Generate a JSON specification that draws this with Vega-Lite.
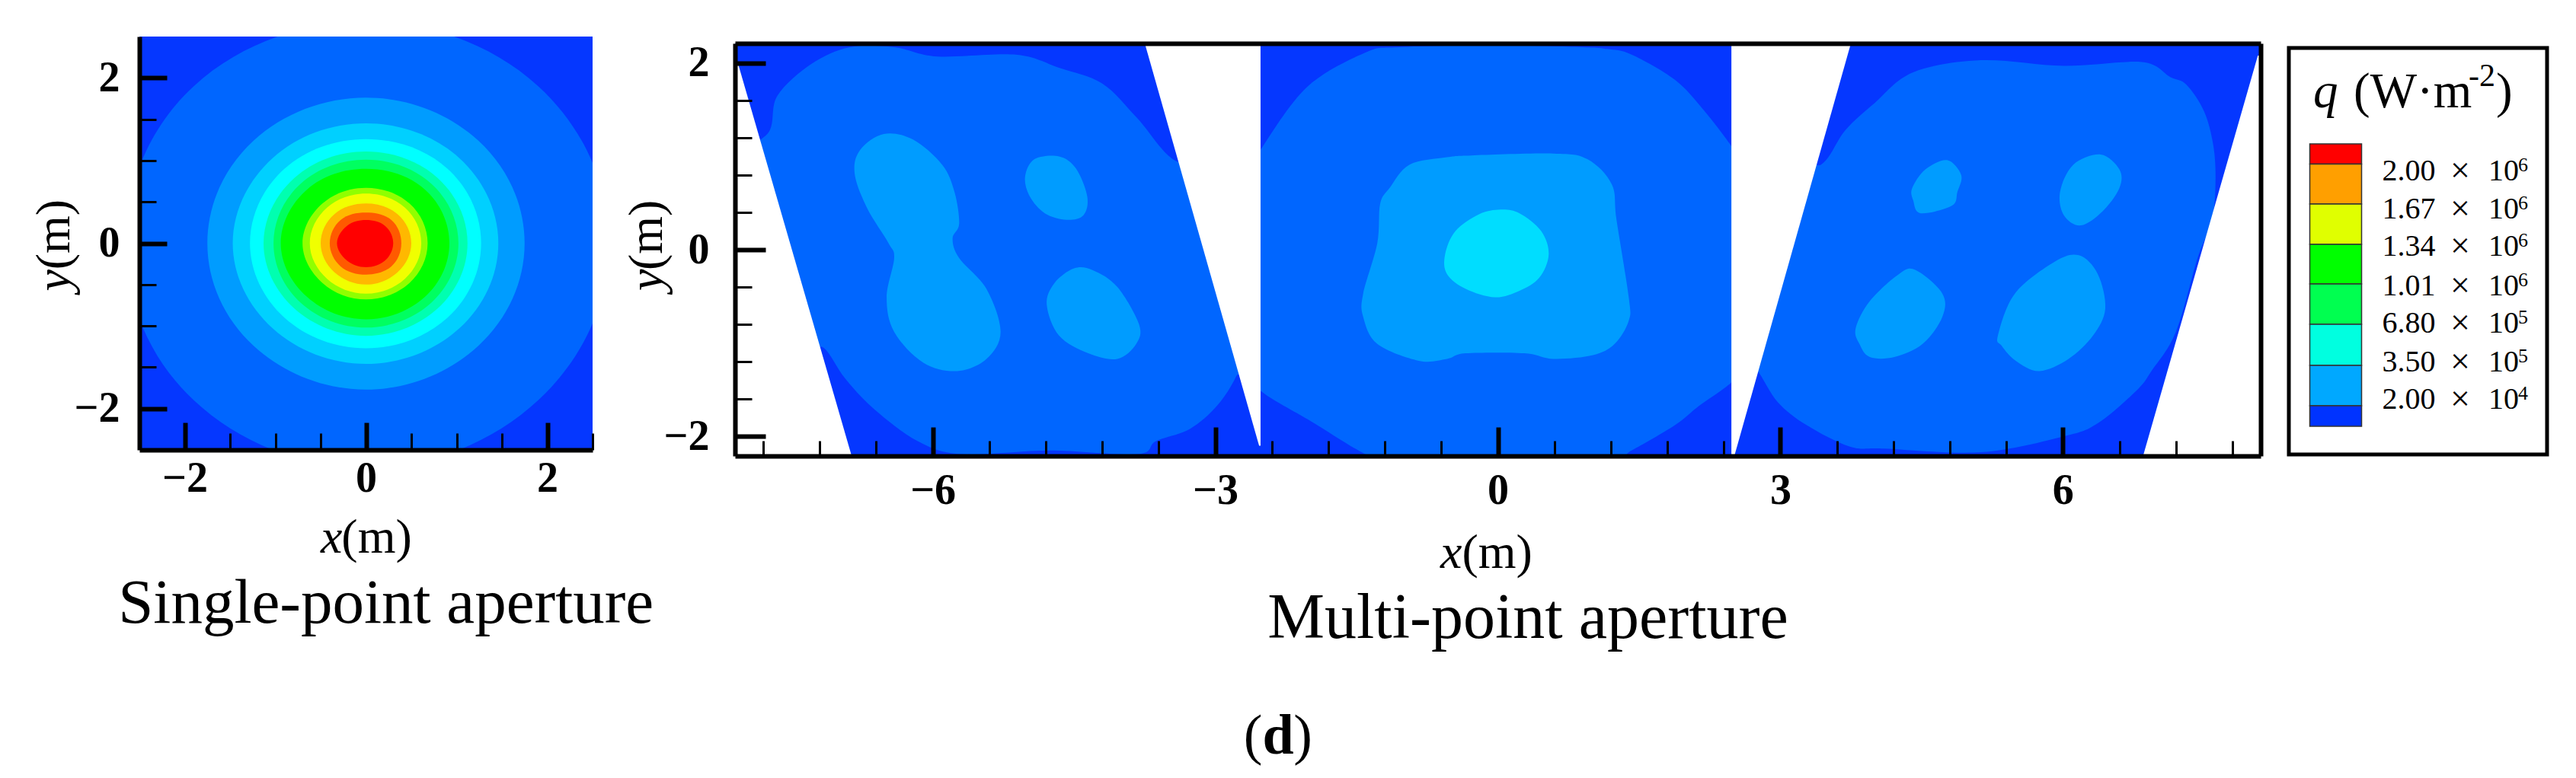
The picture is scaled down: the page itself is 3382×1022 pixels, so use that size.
{"$schema":"https://vega.github.io/schema/vega-lite/v6.json","background":"white","padding":{"left":40,"top":48,"right":0,"bottom":0},"config":{"view":{"stroke":null},"axis":{"grid":false,"title":null,"labelFont":"Liberation Serif","labelColor":"black","domainColor":"black","tickColor":"black","labelOverlap":false,"labelFlush":false}},
"spacing":-41,
"datasets":{
"p1":[
{"r":"a","l":"L2","x":2.68,"y":0},{"r":"a","l":"L2","x":1.9,"y":1.9},{"r":"a","l":"L2","x":0,"y":2.68},{"r":"a","l":"L2","x":-1.9,"y":1.9},{"r":"a","l":"L2","x":-2.65,"y":0},{"r":"a","l":"L2","x":-1.9,"y":-1.9},{"r":"a","l":"L2","x":0,"y":-2.72},{"r":"a","l":"L2","x":1.9,"y":-1.9},
{"r":"b","l":"L3","x":1.75,"y":0},{"r":"b","l":"L3","x":1.24,"y":1.24},{"r":"b","l":"L3","x":0,"y":1.76},{"r":"b","l":"L3","x":-1.24,"y":1.24},{"r":"b","l":"L3","x":-1.75,"y":0},{"r":"b","l":"L3","x":-1.24,"y":-1.24},{"r":"b","l":"L3","x":0,"y":-1.77},{"r":"b","l":"L3","x":1.24,"y":-1.24},
{"r":"c","l":"L4","x":1.46,"y":0},{"r":"c","l":"L4","x":1.03,"y":1.03},{"r":"c","l":"L4","x":0,"y":1.45},{"r":"c","l":"L4","x":-1.03,"y":1.03},{"r":"c","l":"L4","x":-1.47,"y":0},{"r":"c","l":"L4","x":-1.03,"y":-1.03},{"r":"c","l":"L4","x":0,"y":-1.46},{"r":"c","l":"L4","x":1.03,"y":-1.03},
{"r":"d","l":"L5","x":1.27,"y":0},{"r":"d","l":"L5","x":0.9,"y":0.9},{"r":"d","l":"L5","x":0,"y":1.26},{"r":"d","l":"L5","x":-0.9,"y":0.9},{"r":"d","l":"L5","x":-1.28,"y":0},{"r":"d","l":"L5","x":-0.9,"y":-0.9},{"r":"d","l":"L5","x":0,"y":-1.27},{"r":"d","l":"L5","x":0.9,"y":-0.9},
{"r":"e","l":"L6","x":1.12,"y":0},{"r":"e","l":"L6","x":0.79,"y":0.79},{"r":"e","l":"L6","x":0,"y":1.11},{"r":"e","l":"L6","x":-0.79,"y":0.79},{"r":"e","l":"L6","x":-1.13,"y":0},{"r":"e","l":"L6","x":-0.79,"y":-0.79},{"r":"e","l":"L6","x":0,"y":-1.12},{"r":"e","l":"L6","x":0.79,"y":-0.79},
{"r":"f","l":"L7","x":1.02,"y":0},{"r":"f","l":"L7","x":0.72,"y":0.72},{"r":"f","l":"L7","x":0,"y":1.01},{"r":"f","l":"L7","x":-0.72,"y":0.72},{"r":"f","l":"L7","x":-1.02,"y":0},{"r":"f","l":"L7","x":-0.72,"y":-0.72},{"r":"f","l":"L7","x":0,"y":-1.02},{"r":"f","l":"L7","x":0.72,"y":-0.72},
{"r":"g","l":"L8","x":0.92,"y":0},{"r":"g","l":"L8","x":0.65,"y":0.65},{"r":"g","l":"L8","x":0,"y":0.9},{"r":"g","l":"L8","x":-0.65,"y":0.65},{"r":"g","l":"L8","x":-0.94,"y":0},{"r":"g","l":"L8","x":-0.65,"y":-0.65},{"r":"g","l":"L8","x":0,"y":-0.92},{"r":"g","l":"L8","x":0.65,"y":-0.65},
{"r":"h","l":"L9","x":0.68,"y":0},{"r":"h","l":"L9","x":0.48,"y":0.48},{"r":"h","l":"L9","x":0,"y":0.67},{"r":"h","l":"L9","x":-0.48,"y":0.48},{"r":"h","l":"L9","x":-0.7,"y":0},{"r":"h","l":"L9","x":-0.48,"y":-0.48},{"r":"h","l":"L9","x":0,"y":-0.68},{"r":"h","l":"L9","x":0.48,"y":-0.48},
{"r":"i","l":"L10","x":0.61,"y":0},{"r":"i","l":"L10","x":0.43,"y":0.43},{"r":"i","l":"L10","x":0,"y":0.6},{"r":"i","l":"L10","x":-0.43,"y":0.43},{"r":"i","l":"L10","x":-0.62,"y":0},{"r":"i","l":"L10","x":-0.43,"y":-0.43},{"r":"i","l":"L10","x":0,"y":-0.61},{"r":"i","l":"L10","x":0.43,"y":-0.43},
{"r":"j","l":"L11","x":0.5,"y":0},{"r":"j","l":"L11","x":0.35,"y":0.35},{"r":"j","l":"L11","x":0,"y":0.48},{"r":"j","l":"L11","x":-0.35,"y":0.35},{"r":"j","l":"L11","x":-0.5,"y":0},{"r":"j","l":"L11","x":-0.35,"y":-0.35},{"r":"j","l":"L11","x":0,"y":-0.5},{"r":"j","l":"L11","x":0.35,"y":-0.35},
{"r":"k","l":"L12","x":0.39,"y":0},{"r":"k","l":"L12","x":0.28,"y":0.28},{"r":"k","l":"L12","x":0,"y":0.37},{"r":"k","l":"L12","x":-0.28,"y":0.28},{"r":"k","l":"L12","x":-0.4,"y":0},{"r":"k","l":"L12","x":-0.28,"y":-0.28},{"r":"k","l":"L12","x":0,"y":-0.38},{"r":"k","l":"L12","x":0.28,"y":-0.28},
{"r":"m","l":"L13","x":0.3,"y":0},{"r":"m","l":"L13","x":0.21,"y":0.21},{"r":"m","l":"L13","x":0,"y":0.28},{"r":"m","l":"L13","x":-0.21,"y":0.21},{"r":"m","l":"L13","x":-0.32,"y":0},{"r":"m","l":"L13","x":-0.21,"y":-0.21},{"r":"m","l":"L13","x":0,"y":-0.29},{"r":"m","l":"L13","x":0.21,"y":-0.21}
],
"p2":[
{"r":"A","l":"L2","x":-7.73,"y":1.28},{"r":"A","l":"L2","x":-7.65,"y":1.65},{"r":"A","l":"L2","x":-7.29,"y":1.99},{"r":"A","l":"L2","x":-6.88,"y":2.17},{"r":"A","l":"L2","x":-6.41,"y":2.17},{"r":"A","l":"L2","x":-5.95,"y":2.07},{"r":"A","l":"L2","x":-5.12,"y":2.09},{"r":"A","l":"L2","x":-4.66,"y":1.95},{"r":"A","l":"L2","x":-4.2,"y":1.78},{"r":"A","l":"L2","x":-3.83,"y":1.41},{"r":"A","l":"L2","x":-3.42,"y":0.95},{"r":"A","l":"L2","x":-2.96,"y":0.95},{"r":"A","l":"L2","x":-2.7,"y":-1.09},{"r":"A","l":"L2","x":-2.78,"y":-1.36},{"r":"A","l":"L2","x":-2.98,"y":-1.67},{"r":"A","l":"L2","x":-3.27,"y":-1.92},{"r":"A","l":"L2","x":-3.63,"y":-2.05},{"r":"A","l":"L2","x":-3.83,"y":-2.19},{"r":"A","l":"L2","x":-4.76,"y":-2.15},{"r":"A","l":"L2","x":-5.69,"y":-2.19},{"r":"A","l":"L2","x":-6.16,"y":-2.05},{"r":"A","l":"L2","x":-6.62,"y":-1.71},{"r":"A","l":"L2","x":-6.93,"y":-1.38},{"r":"A","l":"L2","x":-7.16,"y":-1.05},{"r":"A","l":"L2","x":-7.39,"y":-1.01},{"r":"A","l":"L2","x":-7.96,"y":0.16},{"r":"A","l":"L2","x":-7.96,"y":0.99},
{"r":"B","l":"L2","x":-2.52,"y":1.07},{"r":"B","l":"L2","x":-2.03,"y":1.74},{"r":"B","l":"L2","x":-1.41,"y":2.11},{"r":"B","l":"L2","x":-1.05,"y":2.17},{"r":"B","l":"L2","x":0,"y":2.19},{"r":"B","l":"L2","x":0.9,"y":2.17},{"r":"B","l":"L2","x":1.16,"y":2.15},{"r":"B","l":"L2","x":1.42,"y":2.09},{"r":"B","l":"L2","x":1.88,"y":1.82},{"r":"B","l":"L2","x":2.19,"y":1.49},{"r":"B","l":"L2","x":2.48,"y":1.11},{"r":"B","l":"L2","x":2.6,"y":0.9},{"r":"B","l":"L2","x":2.6,"y":-1.2},{"r":"B","l":"L2","x":2.48,"y":-1.42},{"r":"B","l":"L2","x":2.14,"y":-1.67},{"r":"B","l":"L2","x":1.88,"y":-1.88},{"r":"B","l":"L2","x":1.42,"y":-2.15},{"r":"B","l":"L2","x":1.2,"y":-2.24},{"r":"B","l":"L2","x":0,"y":-2.24},{"r":"B","l":"L2","x":-1.2,"y":-2.24},{"r":"B","l":"L2","x":-1.41,"y":-2.19},{"r":"B","l":"L2","x":-1.98,"y":-1.84},{"r":"B","l":"L2","x":-2.52,"y":-1.51},{"r":"B","l":"L2","x":-2.6,"y":-1.3},{"r":"B","l":"L2","x":-2.6,"y":0.9},
{"r":"C","l":"L2","x":3.43,"y":0.91},{"r":"C","l":"L2","x":3.69,"y":1.28},{"r":"C","l":"L2","x":4,"y":1.57},{"r":"C","l":"L2","x":4.41,"y":1.9},{"r":"C","l":"L2","x":5.13,"y":2.03},{"r":"C","l":"L2","x":6.01,"y":1.97},{"r":"C","l":"L2","x":6.84,"y":2.01},{"r":"C","l":"L2","x":7.14,"y":1.85},{"r":"C","l":"L2","x":7.31,"y":1.77},{"r":"C","l":"L2","x":7.5,"y":1.48},{"r":"C","l":"L2","x":7.6,"y":1.1},{"r":"C","l":"L2","x":7.62,"y":0.7},{"r":"C","l":"L2","x":7.58,"y":0.3},{"r":"C","l":"L2","x":7.43,"y":-0.09},{"r":"C","l":"L2","x":7.2,"y":-0.88},{"r":"C","l":"L2","x":6.94,"y":-1.3},{"r":"C","l":"L2","x":6.78,"y":-1.51},{"r":"C","l":"L2","x":6.37,"y":-1.86},{"r":"C","l":"L2","x":6.01,"y":-2},{"r":"C","l":"L2","x":5.13,"y":-2.17},{"r":"C","l":"L2","x":4.1,"y":-2.13},{"r":"C","l":"L2","x":3.74,"y":-2.11},{"r":"C","l":"L2","x":3.28,"y":-1.88},{"r":"C","l":"L2","x":2.97,"y":-1.63},{"r":"C","l":"L2","x":2.76,"y":-1.3},{"r":"C","l":"L2","x":2.62,"y":-1.2},{"r":"C","l":"L2","x":3.07,"y":0.91},
{"r":"D","l":"L3","x":-6.83,"y":0.82},{"r":"D","l":"L3","x":-6.77,"y":1.07},{"r":"D","l":"L3","x":-6.52,"y":1.24},{"r":"D","l":"L3","x":-6.21,"y":1.18},{"r":"D","l":"L3","x":-5.9,"y":0.91},{"r":"D","l":"L3","x":-5.77,"y":0.62},{"r":"D","l":"L3","x":-5.72,"y":0.28},{"r":"D","l":"L3","x":-5.79,"y":0.12},{"r":"D","l":"L3","x":-5.72,"y":-0.09},{"r":"D","l":"L3","x":-5.43,"y":-0.42},{"r":"D","l":"L3","x":-5.28,"y":-0.88},{"r":"D","l":"L3","x":-5.43,"y":-1.17},{"r":"D","l":"L3","x":-5.74,"y":-1.3},{"r":"D","l":"L3","x":-6.1,"y":-1.21},{"r":"D","l":"L3","x":-6.41,"y":-0.88},{"r":"D","l":"L3","x":-6.49,"y":-0.51},{"r":"D","l":"L3","x":-6.41,"y":-0.09},{"r":"D","l":"L3","x":-6.47,"y":0.07},{"r":"D","l":"L3","x":-6.7,"y":0.45},
{"r":"E","l":"L3","x":-5.02,"y":0.78},{"r":"E","l":"L3","x":-4.92,"y":0.97},{"r":"E","l":"L3","x":-4.66,"y":1},{"r":"E","l":"L3","x":-4.48,"y":0.87},{"r":"E","l":"L3","x":-4.36,"y":0.57},{"r":"E","l":"L3","x":-4.4,"y":0.37},{"r":"E","l":"L3","x":-4.58,"y":0.32},{"r":"E","l":"L3","x":-4.81,"y":0.39},{"r":"E","l":"L3","x":-4.97,"y":0.57},
{"r":"F","l":"L3","x":-4.79,"y":-0.59},{"r":"F","l":"L3","x":-4.71,"y":-0.36},{"r":"F","l":"L3","x":-4.5,"y":-0.2},{"r":"F","l":"L3","x":-4.3,"y":-0.22},{"r":"F","l":"L3","x":-4.04,"y":-0.4},{"r":"F","l":"L3","x":-3.81,"y":-0.8},{"r":"F","l":"L3","x":-3.84,"y":-1.01},{"r":"F","l":"L3","x":-4.04,"y":-1.17},{"r":"F","l":"L3","x":-4.35,"y":-1.11},{"r":"F","l":"L3","x":-4.66,"y":-0.92},
{"r":"G","l":"L3","x":-0.94,"y":0.91},{"r":"G","l":"L3","x":-1.15,"y":0.66},{"r":"G","l":"L3","x":-1.25,"y":0.49},{"r":"G","l":"L3","x":-1.28,"y":0.07},{"r":"G","l":"L3","x":-1.43,"y":-0.47},{"r":"G","l":"L3","x":-1.43,"y":-0.72},{"r":"G","l":"L3","x":-1.28,"y":-1.01},{"r":"G","l":"L3","x":-0.84,"y":-1.19},{"r":"G","l":"L3","x":-0.54,"y":-1.17},{"r":"G","l":"L3","x":-0.34,"y":-1.11},{"r":"G","l":"L3","x":0.28,"y":-1.11},{"r":"G","l":"L3","x":0.59,"y":-1.17},{"r":"G","l":"L3","x":1.01,"y":-1.13},{"r":"G","l":"L3","x":1.24,"y":-1.01},{"r":"G","l":"L3","x":1.39,"y":-0.76},{"r":"G","l":"L3","x":1.39,"y":-0.51},{"r":"G","l":"L3","x":1.26,"y":0.32},{"r":"G","l":"L3","x":1.21,"y":0.7},{"r":"G","l":"L3","x":0.95,"y":0.97},{"r":"G","l":"L3","x":0.59,"y":1.03},{"r":"G","l":"L3","x":-0.28,"y":1.01},{"r":"G","l":"L3","x":-0.54,"y":0.99},
{"r":"H","l":"P4","x":0.03,"y":0.43},{"r":"H","l":"P4","x":0.23,"y":0.39},{"r":"H","l":"P4","x":0.46,"y":0.2},{"r":"H","l":"P4","x":0.54,"y":-0.05},{"r":"H","l":"P4","x":0.44,"y":-0.3},{"r":"H","l":"P4","x":0.23,"y":-0.44},{"r":"H","l":"P4","x":-0.03,"y":-0.51},{"r":"H","l":"P4","x":-0.34,"y":-0.42},{"r":"H","l":"P4","x":-0.54,"y":-0.26},{"r":"H","l":"P4","x":-0.56,"y":-0.05},{"r":"H","l":"P4","x":-0.45,"y":0.2},{"r":"H","l":"P4","x":-0.2,"y":0.38},
{"r":"I","l":"L3","x":4.4,"y":0.66},{"r":"I","l":"L3","x":4.54,"y":0.86},{"r":"I","l":"L3","x":4.77,"y":0.96},{"r":"I","l":"L3","x":4.92,"y":0.8},{"r":"I","l":"L3","x":4.88,"y":0.62},{"r":"I","l":"L3","x":4.82,"y":0.47},{"r":"I","l":"L3","x":4.49,"y":0.39},{"r":"I","l":"L3","x":4.41,"y":0.53},
{"r":"J","l":"L3","x":5.97,"y":0.62},{"r":"J","l":"L3","x":6.11,"y":0.91},{"r":"J","l":"L3","x":6.4,"y":1.02},{"r":"J","l":"L3","x":6.6,"y":0.86},{"r":"J","l":"L3","x":6.6,"y":0.66},{"r":"J","l":"L3","x":6.42,"y":0.41},{"r":"J","l":"L3","x":6.19,"y":0.26},{"r":"J","l":"L3","x":6.01,"y":0.37},
{"r":"K","l":"L3","x":3.8,"y":-0.84},{"r":"K","l":"L3","x":3.95,"y":-0.55},{"r":"K","l":"L3","x":4.26,"y":-0.26},{"r":"K","l":"L3","x":4.44,"y":-0.22},{"r":"K","l":"L3","x":4.72,"y":-0.47},{"r":"K","l":"L3","x":4.72,"y":-0.72},{"r":"K","l":"L3","x":4.51,"y":-1.01},{"r":"K","l":"L3","x":4.21,"y":-1.15},{"r":"K","l":"L3","x":3.95,"y":-1.15},{"r":"K","l":"L3","x":3.84,"y":-1.01},
{"r":"N","l":"L3","x":5.31,"y":-0.92},{"r":"N","l":"L3","x":5.49,"y":-0.47},{"r":"N","l":"L3","x":5.91,"y":-0.13},{"r":"N","l":"L3","x":6.17,"y":-0.06},{"r":"N","l":"L3","x":6.37,"y":-0.26},{"r":"N","l":"L3","x":6.45,"y":-0.63},{"r":"N","l":"L3","x":6.32,"y":-0.92},{"r":"N","l":"L3","x":6.06,"y":-1.17},{"r":"N","l":"L3","x":5.75,"y":-1.3},{"r":"N","l":"L3","x":5.5,"y":-1.19},{"r":"N","l":"L3","x":5.35,"y":-1.03}
],
"wedge":[
{"r":"w1","x":-8.2,"y":2.0},{"r":"w1","x":-8.07,"y":2.0},{"r":"w1","x":-6.85,"y":-2.25},{"r":"w1","x":-8.2,"y":-2.25},
{"r":"w2","x":-3.76,"y":2.25},{"r":"w2","x":-2.52,"y":2.25},{"r":"w2","x":-2.52,"y":-2.1},{"r":"w2","x":-2.535,"y":-2.1},
{"r":"w3","x":2.48,"y":2.25},{"r":"w3","x":3.76,"y":2.25},{"r":"w3","x":2.5,"y":-2.25},{"r":"w3","x":2.48,"y":-2.25},
{"r":"w4","x":8.2,"y":2.08},{"r":"w4","x":8.07,"y":2.08},{"r":"w4","x":6.84,"y":-2.25},{"r":"w4","x":8.2,"y":-2.25}
],
"bars":[
{"q":"a","lo":381.5,"hi":408},{"q":"b","lo":329,"hi":381.5},{"q":"c","lo":276,"hi":329},{"q":"d","lo":224,"hi":276},{"q":"e","lo":171,"hi":224},{"q":"f","lo":117,"hi":171},{"q":"g","lo":64,"hi":117},{"q":"h","lo":37,"hi":64}
],
"ticks":[
{"m":"2.00","e":"6","p":372},{"m":"1.67","e":"6","p":322},{"m":"1.34","e":"6","p":273},{"m":"1.01","e":"6","p":221},{"m":"6.80","e":"5","p":172},{"m":"3.50","e":"5","p":121},{"m":"2.00","e":"4","p":72}
]
},
"hconcat":[
{"width":595,"height":543,"view":{"fill":"#0537FF"},
"encoding":{"x":{"field":"x","type":"quantitative","scale":{"domain":[-2.5,2.5],"nice":false},"axis":null},"y":{"field":"y","type":"quantitative","scale":{"domain":[-2.5,2.5],"nice":false},"axis":null}},
"resolve":{"axis":{"x":"independent","y":"independent"}},
"layer":[
{"data":{"name":"p1"},"transform":[{"window":[{"op":"row_number","as":"o"}]}],"mark":{"type":"line","filled":true,"interpolate":"cardinal-closed","tension":-0.12,"clip":true},
"encoding":{"x":{"field":"x","type":"quantitative","scale":{"domain":[-2.5,2.5],"nice":false},"axis":{"zindex":1,"orient":"bottom","values":[-2,0,2],"tickSize":-36,"tickWidth":6,"domainWidth":6,"labelFontSize":56,"labelFontWeight":"bold","labelPadding":46}},
"y":{"field":"y","type":"quantitative","scale":{"domain":[-2.5,2.5],"nice":false},"axis":{"zindex":1,"orient":"left","values":[-2,0,2],"tickSize":-36,"tickWidth":6,"domainWidth":6,"labelFontSize":56,"labelFontWeight":"bold","labelPadding":62}},
"color":{"field":"l","type":"nominal","legend":null,"scale":{"domain":["L2","L3","L4","L5","L6","L7","L8","L9","L10","L11","L12","L13","P4","a","b","c","d","e","f","g","h"],"range":["#0066FF","#009CFF","#00D0FF","#00FFFF","#00FFB0","#00FF60","#00FF00","#90FF00","#F0FF00","#FFB800","#FF5A00","#FF0000","#00DDFF","#FF0000","#FF9F00","#E0FF00","#00FF00","#00FF50","#00FFE0","#00A8FF","#0033FF"]}},"detail":{"field":"r"},"order":{"field":"o","type":"quantitative"}}},
{"data":{"values":[{"x":-0.5,"y":-3.57,"t":"x"}]},"mark":{"type":"text","font":"Liberation Serif","fontStyle":"italic","fontSize":64,"align":"left"},
"encoding":{"text":{"field":"t"},"x":{"field":"x","type":"quantitative","axis":{"zindex":1,"orient":"bottom","values":[-1.5,-1,-0.5,0.5,1,1.5,2.5],"tickSize":-22,"tickWidth":3,"domain":false,"labels":false}},
"y":{"field":"y","type":"quantitative","axis":{"zindex":1,"orient":"left","values":[-1.5,-1,-0.5,0.5,1,1.5],"tickSize":-22,"tickWidth":3,"domain":false,"labels":false}}}},
{"data":{"values":[{"x":-0.27,"y":-3.57,"t":"(m)"}]},"mark":{"type":"text","font":"Liberation Serif","fontSize":64,"align":"left"},"encoding":{"text":{"field":"t"}}},
{"data":{"values":[{"x":-3.43,"y":-0.58,"t":"y"}]},"mark":{"type":"text","font":"Liberation Serif","fontStyle":"italic","fontSize":64,"align":"left","angle":270},"encoding":{"text":{"field":"t"}}},
{"data":{"values":[{"x":-3.43,"y":-0.32,"t":"(m)"}]},"mark":{"type":"text","font":"Liberation Serif","fontSize":64,"align":"left","angle":270},"encoding":{"text":{"field":"t"}}},
{"data":{"values":[{"x":0.22,"y":-4.586,"t":"Single-point aperture"}]},"mark":{"type":"text","font":"Liberation Serif","fontSize":83,"baseline":"alphabetic"},"encoding":{"text":{"field":"t"}}}
]},
{"spacing":0,"vconcat":[
{"width":1,"height":6,"data":{"values":[{"a":1}]},"mark":{"type":"rect","opacity":0},"encoding":{}},
{"spacing":34,"hconcat":[
{"width":2003,"height":542,"view":{"fill":"#0537FF"},
"encoding":{"x":{"field":"x","type":"quantitative","scale":{"domain":[-8.1,8.1],"nice":false},"axis":null},"y":{"field":"y","type":"quantitative","scale":{"domain":[-2.21,2.21],"nice":false},"axis":null}},
"resolve":{"axis":{"x":"independent","y":"independent"}},
"layer":[
{"data":{"name":"p2"},"transform":[{"window":[{"op":"row_number","as":"o"}]}],"mark":{"type":"line","filled":true,"interpolate":"cardinal-closed","clip":true},
"encoding":{"x":{"field":"x","type":"quantitative","scale":{"domain":[-8.1,8.1],"nice":false},"axis":{"zindex":1,"orient":"bottom","values":[-6,-3,0,3,6],"tickSize":-38,"tickWidth":6,"domainWidth":6,"labelFontSize":56,"labelFontWeight":"bold","labelPadding":56}},
"y":{"field":"y","type":"quantitative","scale":{"domain":[-2.21,2.21],"nice":false},"axis":{"zindex":1,"orient":"left","values":[-2,0,2],"tickSize":-40,"tickWidth":6,"domainWidth":6,"labelFontSize":56,"labelFontWeight":"bold","labelPadding":74}},
"color":{"field":"l","type":"nominal","legend":null,"scale":{"domain":["L2","L3","L4","L5","L6","L7","L8","L9","L10","L11","L12","L13","P4","a","b","c","d","e","f","g","h"],"range":["#0066FF","#009CFF","#00D0FF","#00FFFF","#00FFB0","#00FF60","#00FF00","#90FF00","#F0FF00","#FFB800","#FF5A00","#FF0000","#00DDFF","#FF0000","#FF9F00","#E0FF00","#00FF00","#00FF50","#00FFE0","#00A8FF","#0033FF"]}},"detail":{"field":"r"},"order":{"field":"o","type":"quantitative"}}},
{"data":{"name":"wedge"},"transform":[{"window":[{"op":"row_number","as":"o"}]}],"mark":{"type":"line","filled":true,"interpolate":"linear-closed","clip":true,"color":"white"},"encoding":{"detail":{"field":"r"},"order":{"field":"o","type":"quantitative"},
"x":{"field":"x","type":"quantitative","axis":{"zindex":1,"orient":"bottom","values":[-7.8,-7.2,-6.6,-5.4,-4.8,-4.2,-3.6,-2.4,-1.8,-1.2,-0.6,0.6,1.2,1.8,2.4,3.6,4.2,4.8,5.4,6.6,7.2,7.8],"tickSize":-20,"tickWidth":3,"domain":false,"labels":false}},
"y":{"field":"y","type":"quantitative","axis":{"zindex":1,"orient":"left","values":[-1.6,-1.2,-0.8,-0.4,0.4,0.8,1.2,1.6],"tickSize":-22,"tickWidth":3,"domain":false,"labels":false}}}},
{"data":{"values":[{"x":-0.61,"y":-3.25,"t":"x"}]},"mark":{"type":"text","font":"Liberation Serif","fontStyle":"italic","fontSize":64,"align":"left"},
"encoding":{"text":{"field":"t"},"x":{"field":"x","type":"quantitative","axis":{"zindex":1,"orient":"top","values":[],"domainWidth":6,"labels":false,"ticks":false}},
"y":{"field":"y","type":"quantitative","axis":{"zindex":1,"orient":"right","values":[],"domainWidth":6,"labels":false,"ticks":false}}}},
{"data":{"values":[{"x":-0.38,"y":-3.25,"t":"(m)"}]},"mark":{"type":"text","font":"Liberation Serif","fontSize":64,"align":"left"},"encoding":{"text":{"field":"t"}}},
{"data":{"values":[{"x":-9.03,"y":-0.44,"t":"y"}]},"mark":{"type":"text","font":"Liberation Serif","fontStyle":"italic","fontSize":64,"align":"left","angle":270},"encoding":{"text":{"field":"t"}}},
{"data":{"values":[{"x":-9.03,"y":-0.22,"t":"(m)"}]},"mark":{"type":"text","font":"Liberation Serif","fontSize":64,"align":"left","angle":270},"encoding":{"text":{"field":"t"}}},
{"data":{"values":[{"x":0.32,"y":-4.16,"t":"Multi-point aperture"}]},"mark":{"type":"text","font":"Liberation Serif","fontSize":84,"baseline":"alphabetic"},"encoding":{"text":{"field":"t"}}},
{"data":{"values":[{"x":-2.7,"y":-5.4,"t":"("},{"x":-2.17,"y":-5.4,"t":")"}]},"mark":{"type":"text","font":"Liberation Serif","fontSize":74,"baseline":"alphabetic","align":"left"},"encoding":{"text":{"field":"t"}}},
{"data":{"values":[{"x":-2.5,"y":-5.4,"t":"d"}]},"mark":{"type":"text","font":"Liberation Serif","fontWeight":"bold","fontSize":74,"baseline":"alphabetic","align":"left"},"encoding":{"text":{"field":"t"}}}
]},
{"spacing":0,"vconcat":[
{"width":1,"height":3,"data":{"values":[{"a":1}]},"mark":{"type":"rect","opacity":0},"encoding":{}},
{"width":339,"height":534,"view":{"stroke":"black","strokeWidth":5},
"encoding":{"y":{"field":"p","type":"quantitative","scale":{"domain":[0,534],"nice":false},"axis":null}},
"layer":[
{"data":{"name":"bars"},"mark":{"type":"rect","stroke":"#333333","strokeWidth":1.5},"encoding":{"x":{"datum":27.5,"type":"quantitative","scale":{"domain":[0,339],"nice":false},"axis":null},"x2":{"datum":95.5},"y":{"field":"lo","type":"quantitative","scale":{"domain":[0,534],"nice":false},"axis":null},"y2":{"field":"hi"},
"color":{"field":"q","type":"nominal","legend":null,"scale":{"domain":["L2","L3","L4","L5","L6","L7","L8","L9","L10","L11","L12","L13","P4","a","b","c","d","e","f","g","h"],"range":["#0066FF","#009CFF","#00D0FF","#00FFFF","#00FFB0","#00FF60","#00FF00","#90FF00","#F0FF00","#FFB800","#FF5A00","#FF0000","#00DDFF","#FF0000","#FF9F00","#E0FF00","#00FF00","#00FF50","#00FFE0","#00A8FF","#0033FF"]}}}},
{"data":{"name":"ticks"},"mark":{"type":"text","font":"Liberation Serif","fontSize":40,"align":"left"},"encoding":{"x":{"datum":122.5,"type":"quantitative","axis":null},"text":{"field":"m"}}},
{"data":{"name":"ticks"},"mark":{"type":"text","font":"Liberation Serif","fontSize":46},"encoding":{"x":{"datum":225,"type":"quantitative","axis":null},"text":{"value":"×"}}},
{"data":{"name":"ticks"},"mark":{"type":"text","font":"Liberation Serif","fontSize":40,"align":"left"},"encoding":{"x":{"datum":262,"type":"quantitative","axis":null},"text":{"value":"10"}}},
{"data":{"name":"ticks"},"mark":{"type":"text","font":"Liberation Serif","fontSize":26,"align":"left","dy":-8},"encoding":{"x":{"datum":301,"type":"quantitative","axis":null},"text":{"field":"e"}}},
{"data":{"values":[{"x":32,"p":456,"t":"q"}]},"mark":{"type":"text","font":"Liberation Serif","fontStyle":"italic","fontSize":65,"align":"left","baseline":"alphabetic"},"encoding":{"x":{"field":"x","type":"quantitative","axis":null},"text":{"field":"t"}}},
{"data":{"values":[{"x":85,"p":456,"t":"(W·m"},{"x":272,"p":456,"t":")"}]},"mark":{"type":"text","font":"Liberation Serif","fontSize":65,"align":"left","baseline":"alphabetic"},"encoding":{"x":{"field":"x","type":"quantitative","axis":null},"text":{"field":"t"}}},
{"data":{"values":[{"x":236,"p":484,"t":"-2"}]},"mark":{"type":"text","font":"Liberation Serif","fontSize":42,"align":"left","baseline":"alphabetic"},"encoding":{"x":{"field":"x","type":"quantitative","axis":null},"text":{"field":"t"}}}
]}
]}
]}
]}
]}
